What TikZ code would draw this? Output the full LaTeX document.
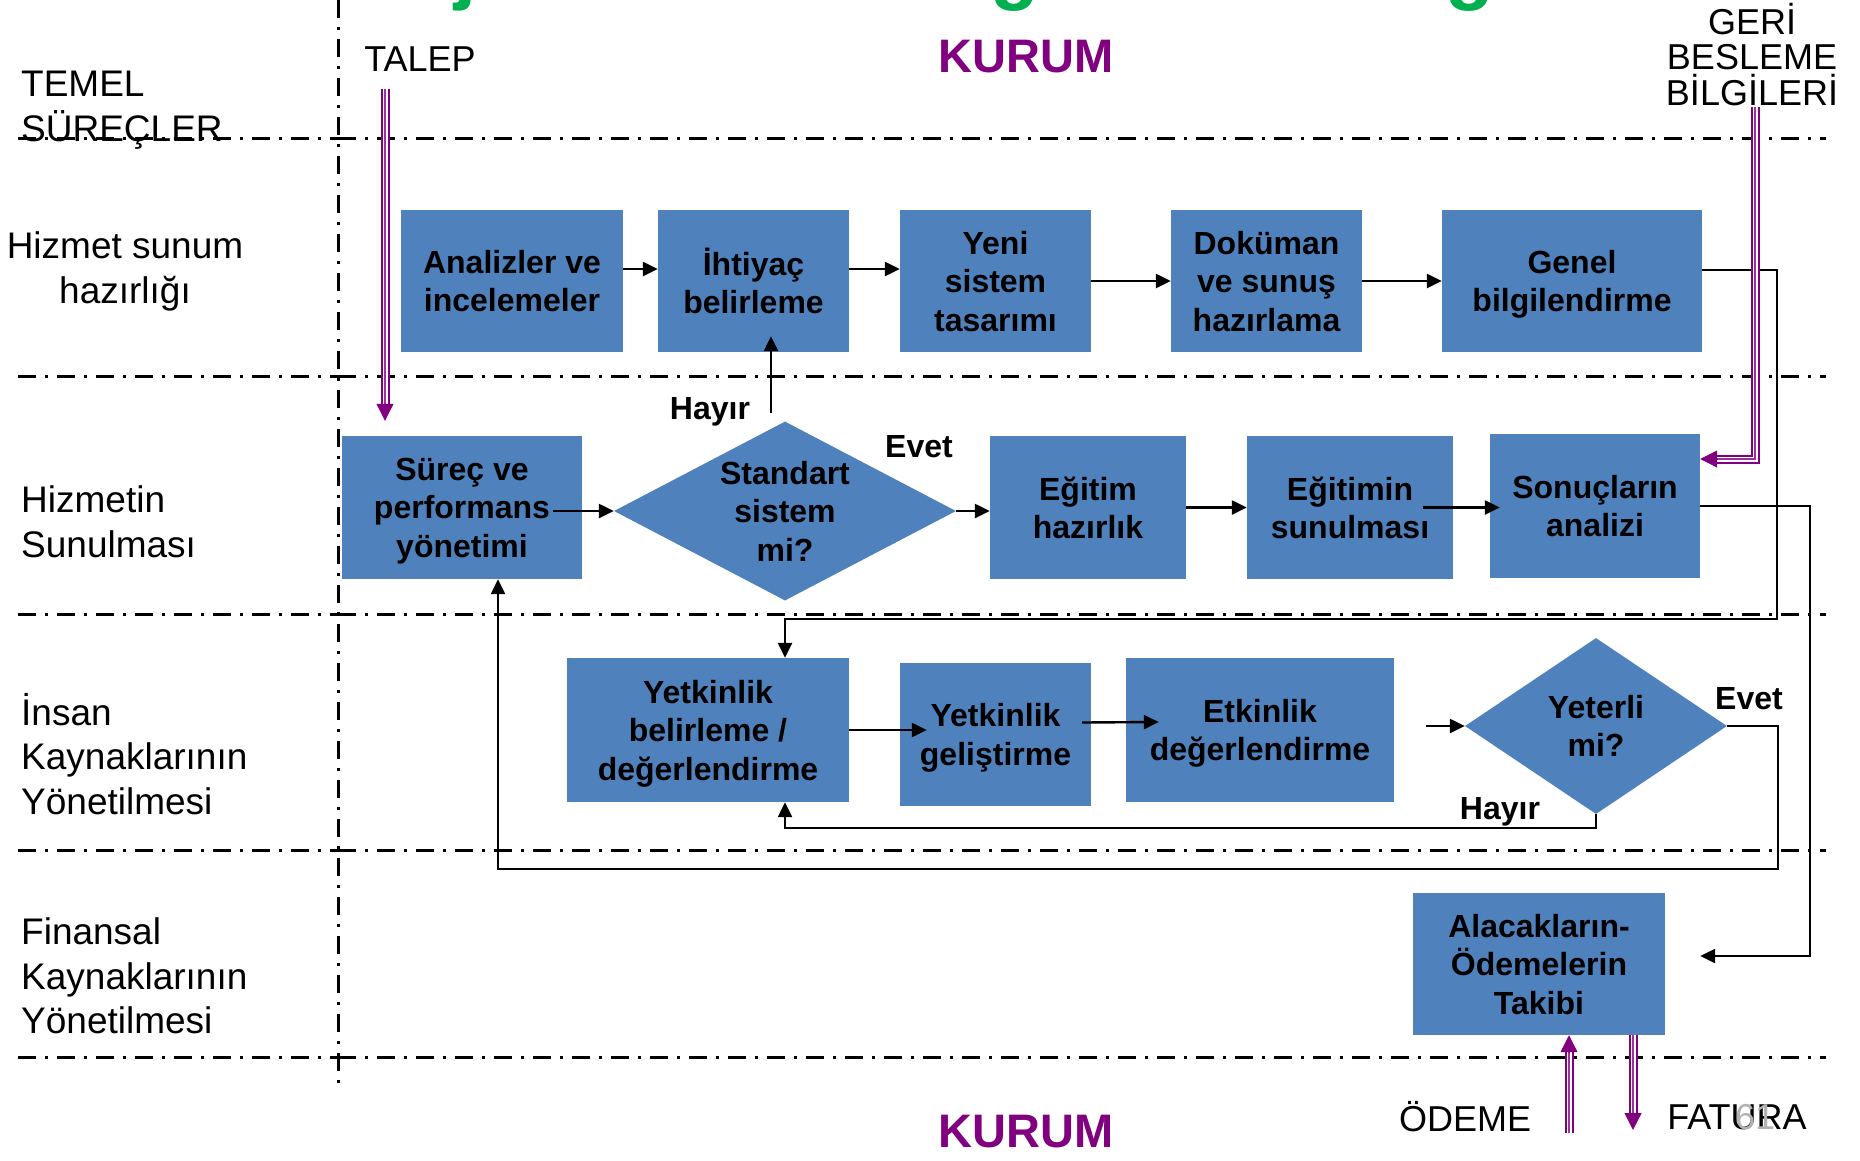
\documentclass[tikz,border=0pt]{standalone}
\usepackage{fontspec}
\setmainfont{Liberation Sans}
\usetikzlibrary{arrows.meta,shapes.geometric,calc}

\definecolor{boxblue}{RGB}{79,129,189}
\definecolor{kpurple}{RGB}{128,0,128}
\definecolor{tgreen}{RGB}{0,176,80}

\newcommand\bxfont{\fontsize{32}{38.5}\selectfont\bfseries}
\newcommand\lnfont{\fontsize{37}{44.5}\selectfont}

\begin{document}
\begin{tikzpicture}[x=1pt,y=-1pt,
  lane/.style={line width=3pt, dash pattern=on 18pt off 9pt on 3pt off 9pt},
  box/.style={rectangle, fill=boxblue, inner sep=0pt, align=center, font=\bxfont, text depth=0pt},
  dia/.style={diamond, fill=boxblue, inner sep=0pt},
  btxt/.style={inner sep=0pt, align=center, font=\bxfont},
  ltxt/.style={inner sep=0pt, align=left, anchor=west, font=\lnfont},
  lbl/.style={inner sep=0pt, font=\bxfont},
  plain/.style={inner sep=0pt, font=\fontsize{36}{36}\selectfont},
  kurum/.style={inner sep=0pt, text=kpurple, font=\fontsize{47}{47}\selectfont\bfseries},
  arr/.style={line width=2.4pt, -{Triangle[length=15pt,width=14pt]}},
  pout/.style={draw=kpurple, line width=2pt, double=white, double distance=5pt},
  pin/.style={draw=kpurple!80, line width=1.6pt},
  ptip/.style={draw=kpurple, line width=1pt, -{Triangle[length=17pt,width=17pt]}},
]
\useasboundingbox (0,0) rectangle (1860,1160);
\fill[white] (0,0) rectangle (1860,1160);

% clipped title descenders at the top edge
\begin{scope}
  \clip (0,0) rectangle (1860,40);
  \node[anchor=base, inner sep=0pt, text=tgreen, font=\fontsize{80}{80}\selectfont\bfseries] (t1) at (466,-6) {j};
  \node[anchor=base, inner sep=0pt, text=tgreen, font=\fontsize{80}{80}\selectfont\bfseries] (t2) at (1015,-6) {g};
  \node[anchor=base, inner sep=0pt, text=tgreen, font=\fontsize{80}{80}\selectfont\bfseries] (t3) at (1470,-6) {g};
\end{scope}

% swimlane separators
\foreach \yy in {138,376,614,850,1057} {
  \draw[lane] (18,\yy) -- (338,\yy);
  \draw[lane] (338,\yy) -- (1826,\yy);
}
\draw[lane] (338,0) -- (338,1089);

% lane titles
\node[ltxt] (l0) at (21,110) {TEMEL\\SÜREÇLER};
\node[inner sep=0pt, align=center, font=\lnfont] (l1) at (125,271.5) {Hizmet sunum\\hazırlığı};
\node[ltxt] (l2) at (21,522) {Hizmetin\\Sunulması};
\node[ltxt] (l3) at (21,754) {İnsan\\Kaynaklarının\\Yönetilmesi};
\node[ltxt] (l4) at (21,976) {Finansal\\Kaynaklarının\\Yönetilmesi};

% outer labels
\node[plain] (talep) at (420,59) {TALEP};
\node[kurum] (kurum1) at (1026,57) {KURUM};
\node[kurum] (kurum2) at (1026,1132) {KURUM};
\node[inner sep=0pt, align=center, font=\fontsize{36}{35.5}\selectfont] (geri) at (1752,54.5) {GERİ\\BESLEME\\BİLGİLERİ};
\node[plain] (odeme) at (1465,1117) {ÖDEME};
\node[plain] (fatura) at (1737,1117) {FATURA};
\node[plain, text=gray!60] (pnum) at (1755,1117) {61};

% row 1: service preparation
\node[box, minimum width=222, minimum height=142] (a1) at (512,281) {Analizler ve\\incelemeler};
\node[box, minimum width=191, minimum height=142] (a2) at (753.5,281) {İhtiyaç\\belirleme};
\node[box, minimum width=191, minimum height=142] (a3) at (995.5,281) {Yeni\\sistem\\tasarımı};
\node[box, minimum width=191, minimum height=142] (a4) at (1266.5,281) {Doküman\\ve sunuş\\hazırlama};
\node[box, minimum width=260, minimum height=142] (a5) at (1572,281) {Genel\\bilgilendirme};

% row 2: service delivery
\node[box, minimum width=240, minimum height=143] (b1) at (462,507.5) {Süreç ve\\performans\\yönetimi};
\node[dia, minimum width=342, minimum height=179] (d1) at (785,511) {};
\node[btxt] (d1t) at (d1) {Standart\\sistem\\mi?};
\node[box, minimum width=196, minimum height=143] (b2) at (1088,507.5) {Eğitim\\hazırlık};
\node[box, minimum width=206, minimum height=143] (b3) at (1350,507.5) {Eğitimin\\sunulması};
\node[box, minimum width=210, minimum height=144] (b4) at (1595,506) {Sonuçların\\analizi};

% row 3: human resources
\node[box, minimum width=282, minimum height=144] (c1) at (708,730) {Yetkinlik\\belirleme /\\değerlendirme};
\node[box, minimum width=191, minimum height=143] (c2) at (995.5,734.5) {Yetkinlik\\geliştirme};
\node[box, minimum width=268, minimum height=144] (c3) at (1260,730) {Etkinlik\\değerlendirme};
\node[dia, minimum width=262, minimum height=176] (d2) at (1596,726) {};
\node[btxt] (d2t) at (d2) {Yeterli\\mi?};

% row 4: financial resources
\node[box, minimum width=252, minimum height=142] (e1) at (1539,964) {Alacakların-\\Ödemelerin\\Takibi};

% decision labels
\node[lbl] (hay1) at (710,412) {Hayır};
\node[lbl] (evt1) at (919,447) {Evet};
\node[lbl] (evt2) at (1749,699) {Evet};
\node[lbl] (hay2) at (1500,812) {Hayır};

% flow connectors
\draw[arr] ([yshift=12pt]a1.east) -- ([yshift=12pt]a1.east -| a2.west);
\draw[arr] ([yshift=12pt]a2.east) -- ([yshift=12pt]a2.east -| a3.west);
\draw[arr] (a3.east) -- (a4.west);
\draw[arr] (a4.east) -- (a5.west);

\draw[arr] ([xshift=-29pt]b1.east |- d1.west) -- (d1.west);
\draw[arr] (d1.east) -- (d1.east -| b2.west);
\draw[arr] (b2.east) -- (b2.east -| b3.west);
\draw[arr] ([xshift=-30pt]b3.east) -- ([xshift=10pt]b3.east -| b4.west);

\coordinate (hy) at ([shift={(-14pt,8pt)}]d1.north);
\draw[arr] (hy) -- ([yshift=16pt]hy |- a2.south);

\draw[arr] (c1.east) -- ([xshift=27pt]c1.east -| c2.west);
\draw[arr] ([shift={(-9pt,12pt)}]c2.east) -- ([shift={(33pt,8pt)}]c3.west);
\draw[arr] ([xshift=32pt]c3.east |- d2.west) -- (d2.west);

% return and cross-lane links
\draw[arr] ([yshift=11pt]a5.east) -- ++(75,0) -- ++(0,349) -| ([xshift=77pt]c1.north);
\draw[arr] (b4.east) -- ++(110,0) |- ([shift={(35pt,8pt)}]e1.east);
\draw[arr] (d2.south) -- ++(0,14) -| ([xshift=77pt]c1.south);
\draw[arr] (d2.east) -- ++(51,0) -- ++(0,143) -| ([xshift=36pt]b1.south);

% external flows (triple purple arrows)
\coordinate (tq0) at (385,89);
\coordinate (tq2) at ($(tq0 |- b1.north)+(0,-15)$);
\coordinate (tq1) at ($(tq2)+(0,-17)$);
\draw[pout] (tq0) -- (tq1);
\draw[pin] (tq0) -- (tq1);
\draw[ptip] (tq1) -- (tq2);

\coordinate (gb0) at (1755,107);
\coordinate (gb2) at ([yshift=47pt]b4.east);
\coordinate (gb1) at ($(gb2)+(17,0)$);
\draw[pout] (gb0) |- (gb1);
\draw[pin] (gb0) |- (gb1);
\draw[ptip] (gb1) -- (gb2);

\coordinate (od0) at (1569,1133);
\coordinate (od2) at ([xshift=30pt]e1.south);
\coordinate (od1) at ($(od2)+(0,17)$);
\draw[pout] (od0) -- (od1);
\draw[pin] (od0) -- (od1);
\draw[ptip] (od1) -- (od2);

\coordinate (fa0) at ([xshift=94pt]e1.south);
\coordinate (fa2) at (1633,1130);
\coordinate (fa1) at ($(fa2)+(0,-17)$);
\draw[pout] (fa0) -- (fa1);
\draw[pin] (fa0) -- (fa1);
\draw[ptip] (fa1) -- (fa2);
\end{tikzpicture}
\end{document}
